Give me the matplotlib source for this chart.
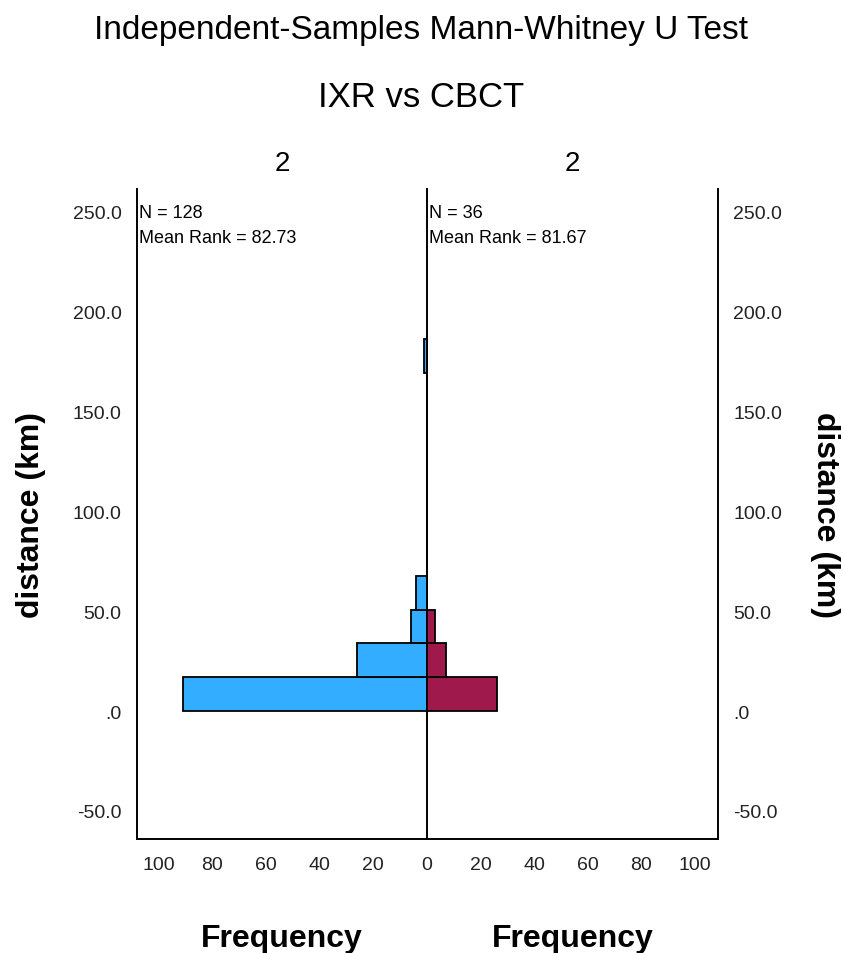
import matplotlib
matplotlib.use("Agg")
import matplotlib.pyplot as plt
from matplotlib.ticker import FuncFormatter, MultipleLocator

# histogram bins of distance (km), width ~16.9 starting at 0
bin_width = 16.9
bin_starts = [0.0, 16.9, 33.8, 50.7, 67.6, 84.5, 101.4, 118.3, 135.2, 152.1, 169.0]
freq_ixr = [91, 26, 6, 4, 0, 0, 0, 0, 0, 0, 1]
freq_cbct = [26, 7, 3, 0, 0, 0, 0, 0, 0, 0, 0]

group_labels = ["2", "2"]
stats_ixr = "N = 128\nMean Rank = 82.73"
stats_cbct = "N = 36\nMean Rank = 81.67"
freq_ticks = [0, 20, 40, 60, 80, 100]

blue = "#33adff"
maroon = "#a0194c"

plt.rcParams['font.family'] = ['Liberation Sans', 'DejaVu Sans']

fig = plt.figure(figsize=(8.43, 9.54), dpi=100)
ax_l = fig.add_axes([0.1625, 0.1195, 0.344, 0.6813])
ax_r = fig.add_axes([0.5065, 0.1195, 0.345, 0.6813])
ax_r.patch.set_visible(False)


def ytick_fmt(v, pos):
    s = f"{v:.1f}"
    if s.startswith("0"):
        s = s[1:]
    return s


for ax, freqs, col in [(ax_l, freq_ixr, blue), (ax_r, freq_cbct, maroon)]:
    ax.barh(bin_starts, freqs, height=bin_width, align='edge', color=col,
            edgecolor='black', linewidth=1.3)
    ax.set_ylim(-64, 261)
    ax.yaxis.set_major_locator(MultipleLocator(50))
    ax.yaxis.set_major_formatter(FuncFormatter(ytick_fmt))
    ax.tick_params(length=0, labelsize=14, colors='#222222')
    ax.tick_params(axis='x', pad=12)
    ax.tick_params(axis='y', pad=11)
    ax.spines['top'].set_visible(False)
    for sp in ax.spines.values():
        sp.set_linewidth(1.4)
    ax.set_xlabel("Frequency", fontsize=23, fontweight='bold', labelpad=36)

ax_l.set_xticks(freq_ticks)
ax_r.set_xticks(freq_ticks[1:])
ax_l.set_xlim(108, 0)
ax_r.set_xlim(0, 108.5)
ax_r.spines['left'].set_visible(False)
ax_r.yaxis.tick_right()
ax_r.yaxis.set_label_position('right')

ax_l.set_ylabel("distance (km)", fontsize=23, fontweight='bold', labelpad=19)
ax_r.set_ylabel("distance (km)", fontsize=23, fontweight='bold', rotation=270,
                labelpad=42)

ax_l.text(0.006, 0.977, stats_ixr, transform=ax_l.transAxes, va='top', ha='left',
          fontsize=13, linespacing=1.6)
ax_r.text(0.008, 0.977, stats_cbct, transform=ax_r.transAxes, va='top', ha='left',
          fontsize=13, linespacing=1.6)

ax_l.set_title(group_labels[0], fontsize=20, pad=14)
ax_r.set_title(group_labels[1], fontsize=20, pad=14)

fig.text(0.5, 0.968, "Independent-Samples Mann-Whitney U Test", ha='center',
         va='center', fontsize=24)
fig.text(0.5, 0.898, "IXR vs CBCT", ha='center', va='center', fontsize=25)

fig.savefig("out.png", dpi=100)
